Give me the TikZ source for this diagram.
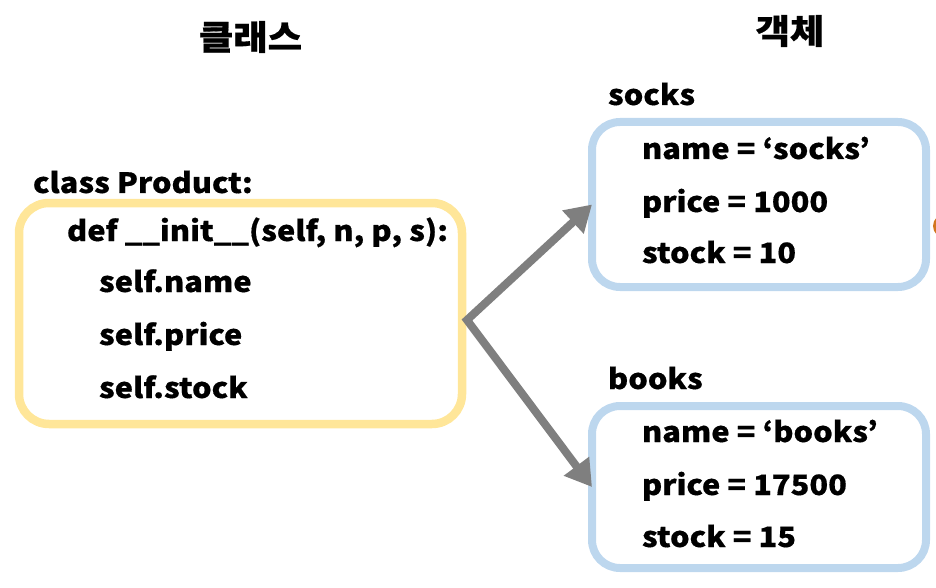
\documentclass[tikz,border=0pt]{standalone}
\usepackage{fontspec}
\setmainfont{Noto Sans CJK KR}[BoldFeatures={FakeStretch=1.1, FakeBold=0.5}]
\usetikzlibrary{arrows.meta}
\definecolor{ybox}{HTML}{FFE699}
\definecolor{bbox}{HTML}{BDD7EE}
\definecolor{arrgray}{HTML}{7F7F7F}
\definecolor{orng}{HTML}{D2761F}
\tikzset{
  txt/.style={inner sep=0pt, outer sep=0pt, anchor=base west, font=\fontsize{28}{34}\selectfont\bfseries},
  ttl/.style={inner sep=0pt, outer sep=0pt, font=\fontsize{34}{40}\selectfont\bfseries},
  clsbox/.style={draw=ybox, line width=8.5pt, rounded corners=30pt, inner sep=0pt, outer sep=0pt},
  objbox/.style={draw=bbox, line width=8pt, rounded corners=28pt, inner sep=0pt, outer sep=0pt},
  arr/.style={draw=arrgray, line width=8pt, line join=miter,
    {Triangle[length=26pt,width=30pt]}-{Triangle[length=26pt,width=30pt]}}
}
\begin{document}
\begin{tikzpicture}[x=1pt,y=-1pt]
\useasboundingbox (0,0) rectangle (936,588);
% titles
\node[ttl] (t1) at (250.5,37) {클래스};
\node[ttl] (t2) at (790,31) {객체};
% class box
\node[clsbox, minimum width=443pt, minimum height=221pt] (cls) at (240.5,313.5) {};
\node[txt] (c0) at (33,193) {class Product:};
\node[txt] (c1) at (67,241) {def \_\_init\_\_(self, n, p, s):};
\node[txt] (c2) at (99,292) {self.name};
\node[txt] (c3) at (99,345) {self.price};
\node[txt] (c4) at (99,398) {self.stock};
% object boxes
\node[objbox, minimum width=334pt, minimum height=165pt] (o1) at (759,204.5) {};
\node[objbox, minimum width=334pt, minimum height=162pt] (o2) at (759,487) {};
\node[txt] (l1) at (608,105) {socks};
\node[txt] (a1) at (642,159) {name = ‘socks’};
\node[txt] (a2) at (642,212) {price = 1000};
\node[txt] (a3) at (642,263) {stock = 10};
\node[txt] (l2) at (608,389) {books};
\node[txt] (b1) at (642,442) {name = ‘books’};
\node[txt] (b2) at (642,495) {price = 17500};
\node[txt] (b3) at (642,547) {stock = 15};
% arrows
\coordinate (src) at (467,320);
\draw[arr] (o1.west) -- (src) -- (o2.west);
% partial orange mark at the right edge
\fill[orng] (945,226) circle (12);
\end{tikzpicture}
\end{document}
